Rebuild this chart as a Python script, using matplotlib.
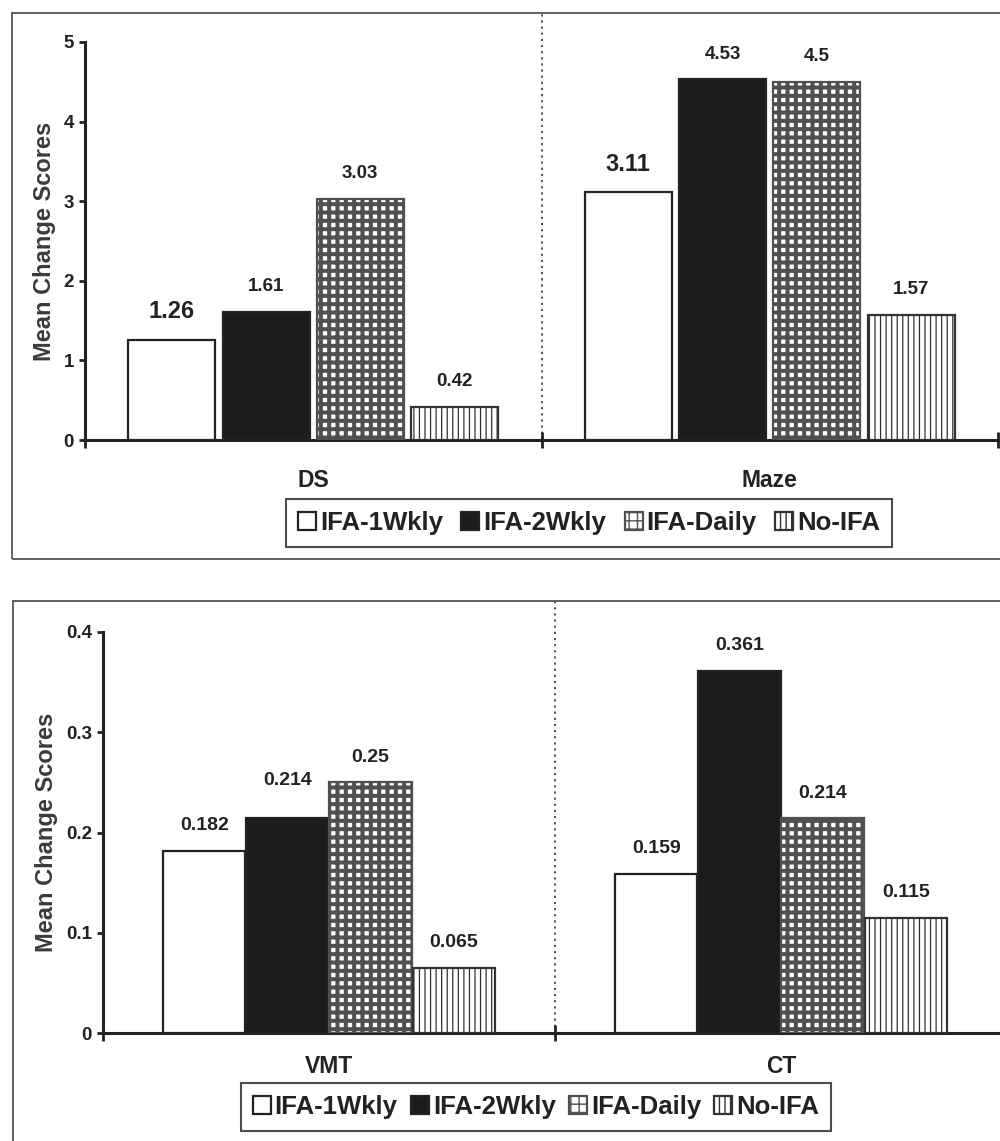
import matplotlib
matplotlib.use("Agg")
import matplotlib.pyplot as plt
from matplotlib.patches import Rectangle
from matplotlib.ticker import FixedLocator, FixedFormatter

plt.rcParams['font.family'] = ['Liberation Sans', 'DejaVu Sans']
plt.rcParams['font.weight'] = 'bold'

series = ["IFA-1Wkly", "IFA-2Wkly", "IFA-Daily", "No-IFA"]

# top panel
top_cats = ["DS", "Maze"]
top_1wkly = [1.26, 3.11]
top_2wkly = [1.61, 4.53]
top_daily = [3.03, 4.5]
top_noifa = [0.42, 1.57]
top_ticks = [0, 1, 2, 3, 4, 5]
top_ticklabels = ["0", "1", "2", "3", "4", "5"]

# bottom panel
bot_cats = ["VMT", "CT"]
bot_1wkly = [0.182, 0.159]
bot_2wkly = [0.214, 0.361]
bot_daily = [0.25, 0.214]
bot_noifa = [0.065, 0.115]
bot_ticks = [0, 0.1, 0.2, 0.3, 0.4]
bot_ticklabels = ["0", "0.1", "0.2", "0.3", "0.4"]

INK = '#222222'
W, H = 1000, 1141

styles = [
    dict(facecolor='white', edgecolor=INK, hatch=None, hlw=1.0),
    dict(facecolor='#1c1c1c', edgecolor=INK, hatch=None, hlw=1.0),
    dict(facecolor='white', edgecolor='#505050', hatch='++', hlw=2.9),
    dict(facecolor='white', edgecolor='#333333', hatch='|||', hlw=0.9),
]

fig = plt.figure(figsize=(W / 100, H / 100), dpi=100)


def px_axes(left, right, top, bottom):
    return fig.add_axes([left / W, 1 - bottom / H, (right - left) / W, (bottom - top) / H])


def panel_box(x0, y0, x1, y1):
    fig.patches.append(Rectangle((x0 / W, 1 - y1 / H), (x1 - x0) / W, (y1 - y0) / H,
                                 transform=fig.transFigure, fill=False,
                                 edgecolor='#555555', linewidth=1.3))


def draw_panel(ax, cats, values, ymax, ticks, ticklabels, offsets, width,
               label_sizes, base_size, sep_top, cat_pad, ylabel_x):
    handles = []
    for i, vals in enumerate(values):
        st = styles[i]
        xs = [c + offsets[i] for c in range(len(cats))]
        bars = ax.bar(xs, vals, width, facecolor=st['facecolor'], edgecolor=st['edgecolor'],
                      hatch=st['hatch'], linewidth=1.6, label=series[i], zorder=3)
        for b in bars:
            if hasattr(b, 'set_hatch_linewidth'):
                b.set_hatch_linewidth(st['hlw'])
        handles.append(bars)
        for j, v in enumerate(vals):
            size, extra = label_sizes.get((i, j), (base_size, 0))
            ax.annotate(str(v), (xs[j], v), xytext=(0, 12 + extra), textcoords='offset points',
                        ha='center', va='bottom', fontsize=size, fontweight='bold', color=INK)
    ax.set_xlim(-0.5, len(cats) - 0.5)
    ax.set_ylim(0, ymax)
    for s in ['top', 'right']:
        ax.spines[s].set_visible(False)
    for s in ['left', 'bottom']:
        ax.spines[s].set_linewidth(2.2)
        ax.spines[s].set_color(INK)
    ax.yaxis.set_major_locator(FixedLocator(ticks))
    ax.yaxis.set_major_formatter(FixedFormatter(ticklabels))
    ax.tick_params(axis='y', direction='out', length=4, width=2, colors=INK,
                   labelsize=13.5, pad=4)
    ax.set_xticks(range(len(cats)))
    ax.set_xticklabels(cats, fontsize=16.5, fontweight='bold', color=INK)
    ax.tick_params(axis='x', which='major', length=0, pad=cat_pad)
    ax.set_xticks([k - 0.5 for k in range(len(cats) + 1)], minor=True)
    ax.tick_params(axis='x', which='minor', direction='inout', length=12, width=2, colors=INK)
    ax.set_ylabel("Mean Change Scores", fontsize=17, fontweight='bold', color='#3a3a3a')
    ax.yaxis.set_label_coords(ylabel_x, 0.5)
    ax.axvline(0.5, ymin=0, ymax=sep_top, color='#444444', linestyle=(0, (1.2, 2.2)),
               linewidth=1.3, clip_on=False, zorder=1)
    ax.set_facecolor('none')
    return handles


def add_legend(handles, cx, cy, colsp):
    leg = fig.legend(handles, series, loc='center', bbox_to_anchor=(cx / W, 1 - cy / H), ncol=4,
                     prop={'weight': 'bold', 'size': 18.5}, frameon=True, fancybox=False,
                     edgecolor=INK, handlelength=0.7, handleheight=0.7, handletextpad=0.15,
                     columnspacing=colsp, borderpad=0.45, borderaxespad=0, labelcolor=INK)
    leg.get_frame().set_linewidth(1.5)
    return leg


# top panel
panel_box(12, 13, 1015, 559)
ax1 = px_axes(85, 998, 42, 440)
h1 = draw_panel(ax1, top_cats, [top_1wkly, top_2wkly, top_daily, top_noifa], 5,
                top_ticks, top_ticklabels, [-0.31, -0.103, 0.103, 0.31], 0.19,
                {(0, 0): (17, 0), (0, 1): (17, 0)}, 13.5, (440 - 13) / (440 - 42),
                21, (56 - 85) / 913)
add_legend(h1, 589, 523, 0.72)

# bottom panel
panel_box(13, 601, 1015, 1160)
ax2 = px_axes(103, 1007, 632, 1033)
h2 = draw_panel(ax2, bot_cats, [bot_1wkly, bot_2wkly, bot_daily, bot_noifa], 0.4,
                bot_ticks, bot_ticklabels, [-0.276, -0.092, 0.092, 0.276], 0.182,
                {(1, 0): (14, 9)}, 14, (1033 - 601) / (1033 - 632),
                16, (58 - 103) / 904)
add_legend(h2, 536, 1107, 0.52)

fig.savefig("out.png", dpi=100, facecolor='white')
